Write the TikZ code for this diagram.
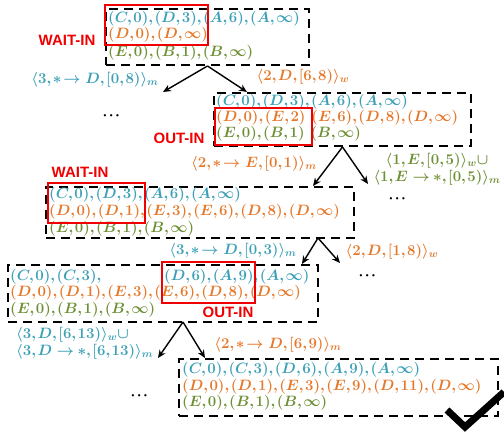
\documentclass[tikz,border=0pt]{standalone}
\usepackage{fix-cm}
\usepackage{amsmath}
\usepackage{fontspec}
\usetikzlibrary{arrows.meta}
\newfontfamily\tagfont{Liberation Sans}
\newcommand\tightmath{\thinmuskip=1.5mu\relax}
\definecolor{tealc}{HTML}{3CA0B6}
\definecolor{orangec}{HTML}{E5782A}
\definecolor{greenc}{HTML}{6E9035}
\definecolor{redc}{HTML}{F00000}
\tikzset{row/.style={anchor=west, inner sep=0pt, font=\boldmath\fontsize{15}{17}\selectfont, execute at begin node=\tightmath},
         tq/.style={row, text=tealc},
         og/.style={row, text=orangec},
         gn/.style={row, text=greenc},
         state/.style={draw, line width=2pt, dash pattern=on 9pt off 6pt, anchor=north west, inner sep=0pt},
         hl/.style={draw=redc, line width=2pt},
         tag/.style={text=redc, inner sep=0pt, font=\tagfont\bfseries\fontsize{15}{15}\selectfont},
         move/.style={-{Stealth[length=8pt,width=7pt]}, line width=1.4pt},
        }

\begin{document}
\begin{tikzpicture}[x=1pt, y=-1pt]
        \useasboundingbox (0,0) rectangle (504,438);

        % states
        \node[state, minimum width=203pt, minimum height=56pt](s1)at(105,8){};
        \node[state, minimum width=257pt, minimum height=53pt](s2)at(213,92){};
        \node[state, minimum width=308pt, minimum height=51pt](s3)at(45,186){};
        \node[state, minimum width=310pt, minimum height=57pt](s4)at(7,264){};
        \node[state, minimum width=319pt, minimum height=57pt](s5)at(178,358){};

        % contents
        \node[tq](s1a)at(108,19){$(C,0),(D,3),(A,6),(A,\infty)$};
        \node[og](s1b)at(108,35){$(D,0),(D,\infty)$};
        \node[gn](s1c)at(108,53){$(E,0),(B,1),(B,\infty)$};

        \node[tq](s2a)at(216,102){$(C,0),(D,3),(A,6),(A,\infty)$};
        \node[og](s2b)at(216,118){$(D,0),(E,2)\ \,(E,6),(D,8),(D,\infty)$};
        \node[gn](s2c)at(216,134){$(E,0),(B,1)\ \,(B,\infty)$};

        \node[tq](s3a)at(49,195){$(C,0),(D,3),(A,6),(A,\infty)$};
        \node[og](s3b)at(49,212){$(D,0),(D,1),(E,3),(E,6),(D,8),(D,\infty)$};
        \node[gn](s3c)at(49,229){$(E,0),(B,1),(B,\infty)$};

        \node[tq](s4a)at(10,277){$(C,0),(C,3),$};
        \node[tq](s4d)at(164,277){$(D,6),(A,9),(A,\infty)$};
        \node[og](s4b)at(10,293){$(D,0),(D,1),(E,3),(E,6),(D,8),(D,\infty)$};
        \node[gn](s4c)at(10,310){$(E,0),(B,1),(B,\infty)$};

        \node[tq](s5a)at(182,370){$(C,0),(C,3),(D,6),(A,9),(A,\infty)$};
        \node[og](s5b)at(182,387){$(D,0),(D,1),(E,3),(E,9),(D,11),(D,\infty)$};
        \node[gn](s5c)at(182,403){$(E,0),(B,1),(B,\infty)$};

        % windows
        \draw[hl](105,5)rectangle(208,45);
        \draw[hl](215,108)rectangle(312,145);
        \draw[hl](48,183)rectangle(145,223);
        \draw[hl](162,262)rectangle(255,303);

        \node[tag](w1)at(67,40){WAIT-IN};
        \node[tag](o1)at(179,138){OUT-IN};
        \node[tag](w2)at(80,172){WAIT-IN};
        \node[tag](o2)at(228,312){OUT-IN};

        % branches
        \coordinate(a3)at(318,238);
        \coordinate(a4)at(183,322);
        \coordinate(e1)at(163,92);
        \coordinate(e2)at(247,92);
        \coordinate(e4)at(368,184);
        \coordinate(e6)at(340,263);
        \coordinate(e7)at(158,358);

        \draw[move](s1.south)--(e1);
        \draw[move](s1.south)--(e2);
        \draw[move](s2.south)--(s3.north east-|313,0);
        \draw[move](s2.south)--(e4);
        \draw[move](a3)--(s4.north east-|302,0);
        \draw[move](a3)--(e6);
        \draw[move](a4)--(e7);
        \draw[move](a4)--(s5.north west-|205,0);

        \node[tq, anchor=center](l1)at(95,80){$\langle 3,{\ast}\!\!\rightarrow D,[0,8)\rangle_m$};
        \node[og, anchor=center](l2)at(303,77){$\langle 2,D,[6,8)\rangle_w$};
        \node[og, anchor=center](l3)at(254,164){$\langle 2,{\ast}\!\!\rightarrow E,[0,1)\rangle_m$};
        \node[gn, anchor=center, align=center](l4)at(437,169){$\langle 1,E,[0,5)\rangle_w\cup$\\$\langle 1,E\rightarrow\!{\ast},[0,5)\rangle_m$};
        \node[tq, anchor=center](l5)at(233,251){$\langle 3,{\ast}\!\!\rightarrow D,[0,3)\rangle_m$};
        \node[og, anchor=center](l6)at(392,252){$\langle 2,D,[1,8)\rangle_w$};
        \node[tq, align=left](l7)at(16,343){$\langle 3,D,[6,13)\rangle_w\cup$\\$\langle 3,D\rightarrow\!{\ast},[6,13)\rangle_m$};
        \node[og, anchor=center](l8)at(278,345){$\langle 2,{\ast}\!\!\rightarrow D,[6,9)\rangle_m$};

        \node[row, anchor=center](d1)at(112,116){$\cdots$};
        \node[row, anchor=center](d2)at(398,199){$\cdots$};
        \node[row, anchor=center](d3)at(368,276){$\cdots$};
        \node[row, anchor=center](d4)at(140,396){$\cdots$};

        \draw[line width=7pt](447,410)--(465,427)--(504,392);
    \end{tikzpicture}
\end{document}
